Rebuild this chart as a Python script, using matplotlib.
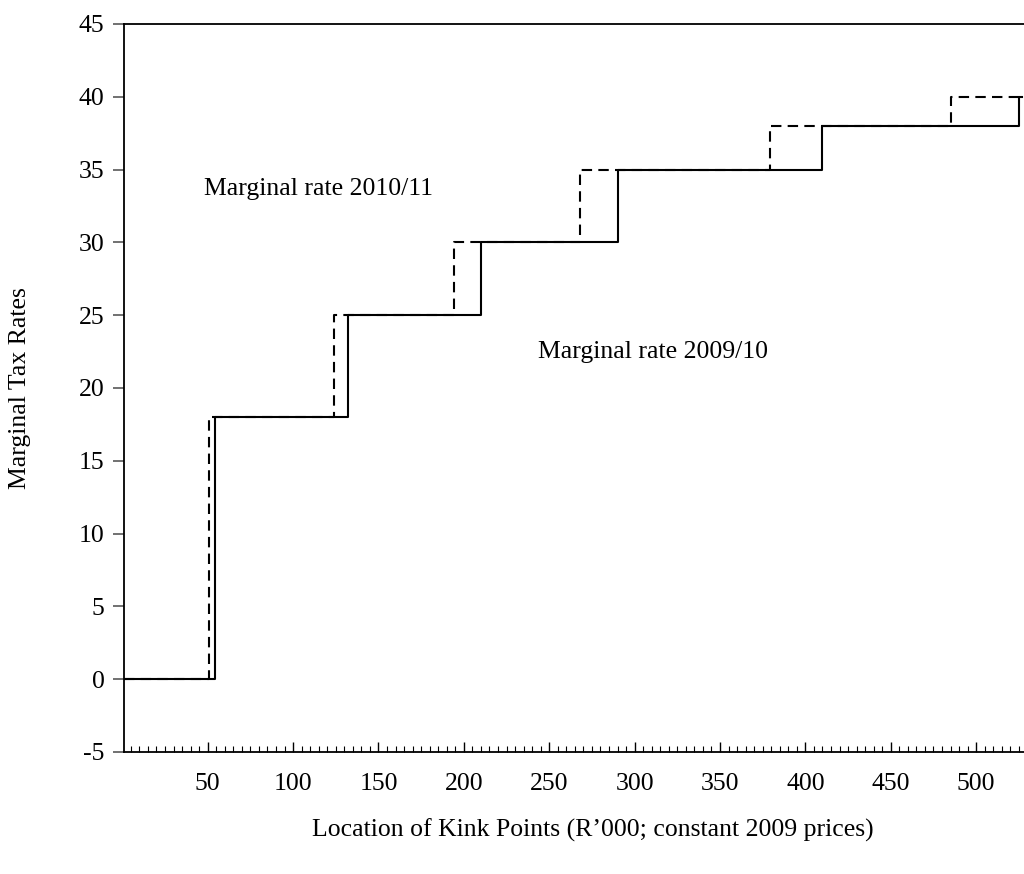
import matplotlib
matplotlib.use("Agg")
import matplotlib.pyplot as plt
from matplotlib.ticker import MultipleLocator

plt.rcParams['font.family'] = ['Liberation Serif', 'DejaVu Serif']
plt.rcParams['axes.unicode_minus'] = False

# 2009/10 schedule (solid) - kink points in R'000 (constant 2009 prices)
x_0910 = [1, 54.2, 132, 210, 290, 410, 525, 527]
r_0910 = [0, 18, 25, 30, 35, 38, 40, 40]
# 2010/11 schedule (dashed)
x_1011 = [1, 50.5, 123.7, 194.3, 268, 379, 485, 527]
r_1011 = [0, 18, 25, 30, 35, 38, 40, 40]

yticks = [-5, 0, 5, 10, 15, 20, 25, 30, 35, 40, 45]
xticks = [50, 100, 150, 200, 250, 300, 350, 400, 450, 500]

FS = 18.5

fig = plt.figure(figsize=(10.24, 8.74), dpi=100)
ax = fig.add_axes([124/1024, 1-752/874, 1-124/1024, (752-24)/874])

ax.step(x_1011, r_1011, where='post', color='black', lw=1.5, ls=(0, (5, 3)))
ax.step(x_0910, r_0910, where='post', color='black', lw=1.5)

ax.set_xlim(1, 528)
ax.set_ylim(-5, 45)
ax.set_yticks(yticks)
ax.set_xticks(xticks)
ax.xaxis.set_minor_locator(MultipleLocator(5))

ax.spines['right'].set_visible(False)
for s in ['left', 'bottom', 'top']:
    ax.spines[s].set_linewidth(1.3)

ax.tick_params(axis='y', direction='out', length=8, width=1.3, color='#666666',
               labelsize=FS, pad=6)
ax.tick_params(axis='x', which='major', direction='in', length=7, width=1.0,
               labelsize=FS, pad=15)
ax.tick_params(axis='x', which='minor', direction='in', length=4, width=0.8)
ax.tick_params(axis='y', which='minor', left=False)

ax.text(115, 33.7, 'Marginal rate 2010/11', fontsize=FS, ha='center', va='center')
ax.text(311, 22.5, 'Marginal rate 2009/10', fontsize=FS, ha='center', va='center')

fig.text(20/1024, 1-388/874, 'Marginal Tax Rates', rotation=90, fontsize=FS,
         ha='center', va='center')
fig.text(593/1024, 1-830/874, "Location of Kink Points (R\u2019000; constant 2009 prices)",
         fontsize=FS, ha='center', va='center')

fig.savefig('out.png', dpi=100)
